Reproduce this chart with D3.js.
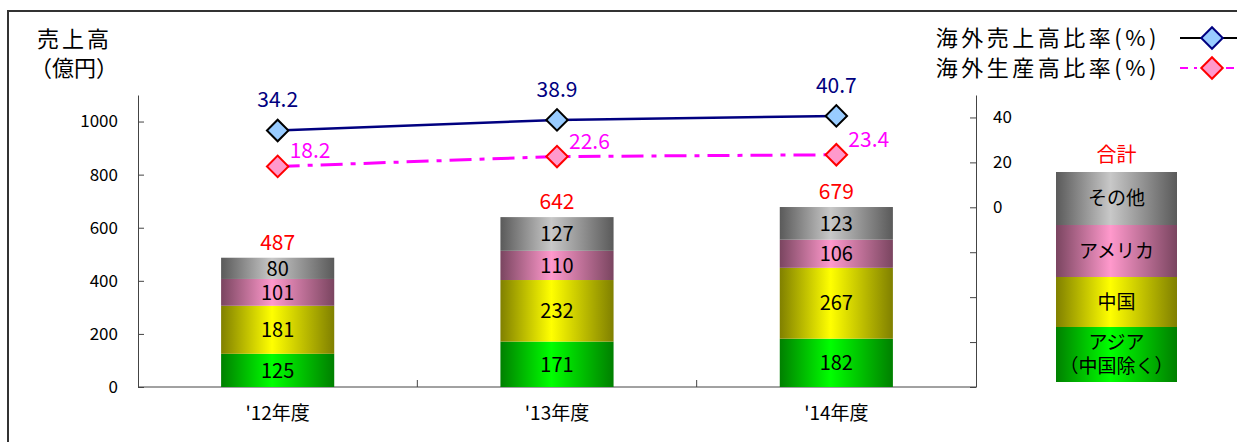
<!DOCTYPE html>
<html>
<head>
<meta charset="utf-8">
<script src="https://cdn.jsdelivr.net/npm/d3@7"></script>
<style>
  body { margin: 0; background: #fff; }
  text { font-family: "Noto Sans CJK JP", "Noto Sans", sans-serif; }
</style>
</head>
<body>
<div id="chart"></div>
<script>
// data
var years = ["'12年度", "'13年度", "'14年度"];
var segNames = [["アジア", "（中国除く）"], ["中国"], ["アメリカ"], ["その他"]];
var asia = [125, 171, 182];
var china = [181, 232, 267];
var america = [101, 110, 106];
var other = [80, 127, 123];
var totals = [487, 642, 679];
var salesRatio = [34.2, 38.9, 40.7];
var prodRatio = [18.2, 22.6, 23.4];
var leftTicks = [0, 200, 400, 600, 800, 1000];
var rightTicks = [-80, -60, -40, -20, 0, 20, 40];

var W = 1237, H = 442;
var svg = d3.select("#chart").append("svg")
    .attr("width", W).attr("height", H);

// gradients (dark edges, light centre)
var grads = [
    { id: "gAsia", edge: "#008000", mid: "#00ff00" },
    { id: "gChina", edge: "#808000", mid: "#ffff00" },
    { id: "gAmerica", edge: "#7a4560", mid: "#ff99cc" },
    { id: "gOther", edge: "#5a5a5a", mid: "#c8c8c8" }
];
var defs = svg.append("defs");
grads.forEach(function(g) {
    var lg = defs.append("linearGradient").attr("id", g.id)
        .attr("x1", "0").attr("x2", "1").attr("y1", "0").attr("y2", "0");
    lg.append("stop").attr("offset", "0").attr("stop-color", g.edge);
    lg.append("stop").attr("offset", "0.45").attr("stop-color", g.mid);
    lg.append("stop").attr("offset", "1").attr("stop-color", g.edge);
});

// frame
svg.append("path").attr("d", "M8,442 L8,11 L1237,11")
    .attr("fill", "none").attr("stroke", "#333").attr("stroke-width", 2);

var x = d3.scaleBand().domain(years).range([138, 976]);
var y = d3.scaleLinear().domain([0, 1100]).range([387, 95]);
var y2 = d3.scaleLinear().domain([-80, 50]).range([387, 95]);

// left axis
svg.append("g").attr("transform", "translate(138,0)")
    .call(d3.axisLeft(y).tickValues(leftTicks).tickFormat(d3.format("d"))
        .tickSizeInner(-6).tickSizeOuter(0).tickPadding(20))
    .call(function(g) {
        g.selectAll("text").style("font-size", "17px").attr("fill", "#000");
        g.selectAll("line,path").attr("stroke", "#444");
    });

// right axis
svg.append("g").attr("transform", "translate(976,0)")
    .call(d3.axisRight(y2).tickValues(rightTicks).tickSizeInner(-6).tickSizeOuter(0).tickPadding(17)
        .tickFormat(function(d) { return d >= 0 ? d : ""; }))
    .call(function(g) {
        g.selectAll("text").style("font-size", "17px").attr("fill", "#000");
        g.selectAll("line,path").attr("stroke", "#444");
    });

// x axis baseline and dividers
svg.append("line").attr("x1", 138).attr("x2", 976).attr("y1", 387).attr("y2", 387)
    .attr("stroke", "#444");
svg.selectAll(".div").data(years.slice(1)).enter().append("line")
    .attr("x1", function(d) { return x(d); }).attr("x2", function(d) { return x(d); })
    .attr("y1", 387).attr("y2", 380).attr("stroke", "#444");
svg.append("g").attr("transform", "translate(0,387)")
    .call(d3.axisBottom(x).tickSize(0).tickPadding(20))
    .call(function(g) {
        g.select(".domain").remove();
        g.selectAll("text").style("font-size", "19px").attr("fill", "#000");
    });

// stacked bars
var rows = years.map(function(yr, i) {
    return { year: yr, asia: asia[i], china: china[i], america: america[i], other: other[i] };
});
var keys = ["asia", "china", "america", "other"];
var stack = d3.stack().keys(keys)(rows);
var barW = x.bandwidth() * 0.405;

var layer = svg.selectAll(".layer").data(stack).enter().append("g")
    .attr("fill", function(d, i) { return "url(#" + grads[i].id + ")"; });
layer.selectAll("rect").data(function(d) { return d; }).enter().append("rect")
    .attr("x", function(d) { return x(d.data.year) + (x.bandwidth() - barW) / 2; })
    .attr("width", barW)
    .attr("y", function(d) { return y(d[1]); })
    .attr("height", function(d) { return y(d[0]) - y(d[1]); });
layer.selectAll("text").data(function(d) { return d; }).enter().append("text")
    .attr("x", function(d) { return x(d.data.year) + x.bandwidth() / 2; })
    .attr("y", function(d) { return (y(d[0]) + y(d[1])) / 2; })
    .attr("dy", "0.36em")
    .attr("text-anchor", "middle")
    .attr("fill", "#000")
    .style("font-size", "20px")
    .text(function(d) { return d[1] - d[0]; });

// totals
svg.selectAll(".total").data(totals).enter().append("text")
    .attr("x", function(d, i) { return x(years[i]) + x.bandwidth() / 2; })
    .attr("y", function(d, i) { return y(d3.sum(keys, function(k) { return rows[i][k]; })) - 8; })
    .attr("text-anchor", "middle")
    .attr("fill", "#ff0000")
    .style("font-size", "21px")
    .text(function(d) { return d; });

// lines
var cx = function(d, i) { return x(years[i]) + x.bandwidth() / 2; };
var diamond = d3.symbol().type(d3.symbolSquare).size(230);

svg.append("path").datum(prodRatio)
    .attr("d", d3.line().x(cx).y(function(d) { return y2(d); }))
    .attr("fill", "none").attr("stroke", "#ff00ff").attr("stroke-width", 3)
    .attr("stroke-dasharray", "22,8,5,8");
svg.selectAll(".pm").data(prodRatio).enter().append("path")
    .attr("d", diamond)
    .attr("transform", function(d, i) { return "translate(" + cx(d, i) + "," + y2(d) + ") rotate(45)"; })
    .attr("fill", "#ff99cc").attr("stroke", "#ff0000").attr("stroke-width", 2);
svg.selectAll(".pl").data(prodRatio).enter().append("text")
    .attr("x", function(d, i) { return cx(d, i) + 12; })
    .attr("y", function(d) { return y2(d) - 8; })
    .attr("fill", "#ff00ff").style("font-size", "21px")
    .text(function(d) { return d.toFixed(1); });

svg.append("path").datum(salesRatio)
    .attr("d", d3.line().x(cx).y(function(d) { return y2(d); }))
    .attr("fill", "none").attr("stroke", "#000080").attr("stroke-width", 2.5);
svg.selectAll(".sm").data(salesRatio).enter().append("path")
    .attr("d", diamond)
    .attr("transform", function(d, i) { return "translate(" + cx(d, i) + "," + y2(d) + ") rotate(45)"; })
    .attr("fill", "#99ccff").attr("stroke", "#000").attr("stroke-width", 2);
svg.selectAll(".sl").data(salesRatio).enter().append("text")
    .attr("x", function(d, i) { return cx(d, i); })
    .attr("y", function(d) { return y2(d) - 23; })
    .attr("text-anchor", "middle")
    .attr("fill", "#000080").style("font-size", "21px")
    .text(function(d) { return d.toFixed(1); });

// axis title
svg.append("text").attr("x", 37).attr("y", 47).style("font-size", "22px")
    .style("letter-spacing", "3px").attr("fill", "#000").text("売上高");
svg.append("text").attr("x", 30).attr("y", 76).style("font-size", "22px")
    .attr("fill", "#000").text("（億円）");

// line legend
var lg1 = svg.append("g");
lg1.append("text").attr("x", 1160).attr("y", 46).attr("text-anchor", "end")
    .style("font-size", "22px").style("letter-spacing", "3.5px").attr("fill", "#000").text("海外売上高比率(%)");
lg1.append("line").attr("x1", 1180).attr("x2", 1237).attr("y1", 38).attr("y2", 38)
    .attr("stroke", "#000").attr("stroke-width", 2);
lg1.append("path").attr("d", diamond).attr("transform", "translate(1212,38) rotate(45)")
    .attr("fill", "#99ccff").attr("stroke", "#000080").attr("stroke-width", 2);
lg1.append("text").attr("x", 1160).attr("y", 76).attr("text-anchor", "end")
    .style("font-size", "22px").style("letter-spacing", "3.5px").attr("fill", "#000").text("海外生産高比率(%)");
lg1.append("line").attr("x1", 1180).attr("x2", 1237).attr("y1", 68).attr("y2", 68)
    .attr("stroke", "#ff00ff").attr("stroke-width", 2).attr("stroke-dasharray", "8,6,3,6");
lg1.append("path").attr("d", diamond).attr("transform", "translate(1212,68) rotate(45)")
    .attr("fill", "#ff99cc").attr("stroke", "#ff0000").attr("stroke-width", 2);

// segment legend (stack box)
var boxX = 1056, boxW = 121;
var boxRows = [
    { y0: 327, y1: 382, g: "gAsia" },
    { y0: 277, y1: 327, g: "gChina" },
    { y0: 225, y1: 277, g: "gAmerica" },
    { y0: 172, y1: 225, g: "gOther" }
];
var lgBox = svg.append("g");
boxRows.forEach(function(r, i) {
    lgBox.append("rect").attr("x", boxX).attr("y", r.y0).attr("width", boxW).attr("height", r.y1 - r.y0)
        .attr("fill", "url(#" + r.g + ")");
    var mid = (r.y0 + r.y1) / 2;
    var names = segNames[i];
    names.forEach(function(t, j) {
        lgBox.append("text").attr("x", boxX + boxW / 2)
            .attr("y", mid + (j - (names.length - 1) / 2) * 24)
            .attr("dy", "0.36em").attr("text-anchor", "middle")
            .style("font-size", "19px").attr("fill", "#000").text(t);
    });
});
lgBox.append("text").attr("x", boxX + boxW / 2).attr("y", 162).attr("text-anchor", "middle")
    .style("font-size", "20px").attr("fill", "#ff0000").text("合計");
</script>
</body>
</html>
